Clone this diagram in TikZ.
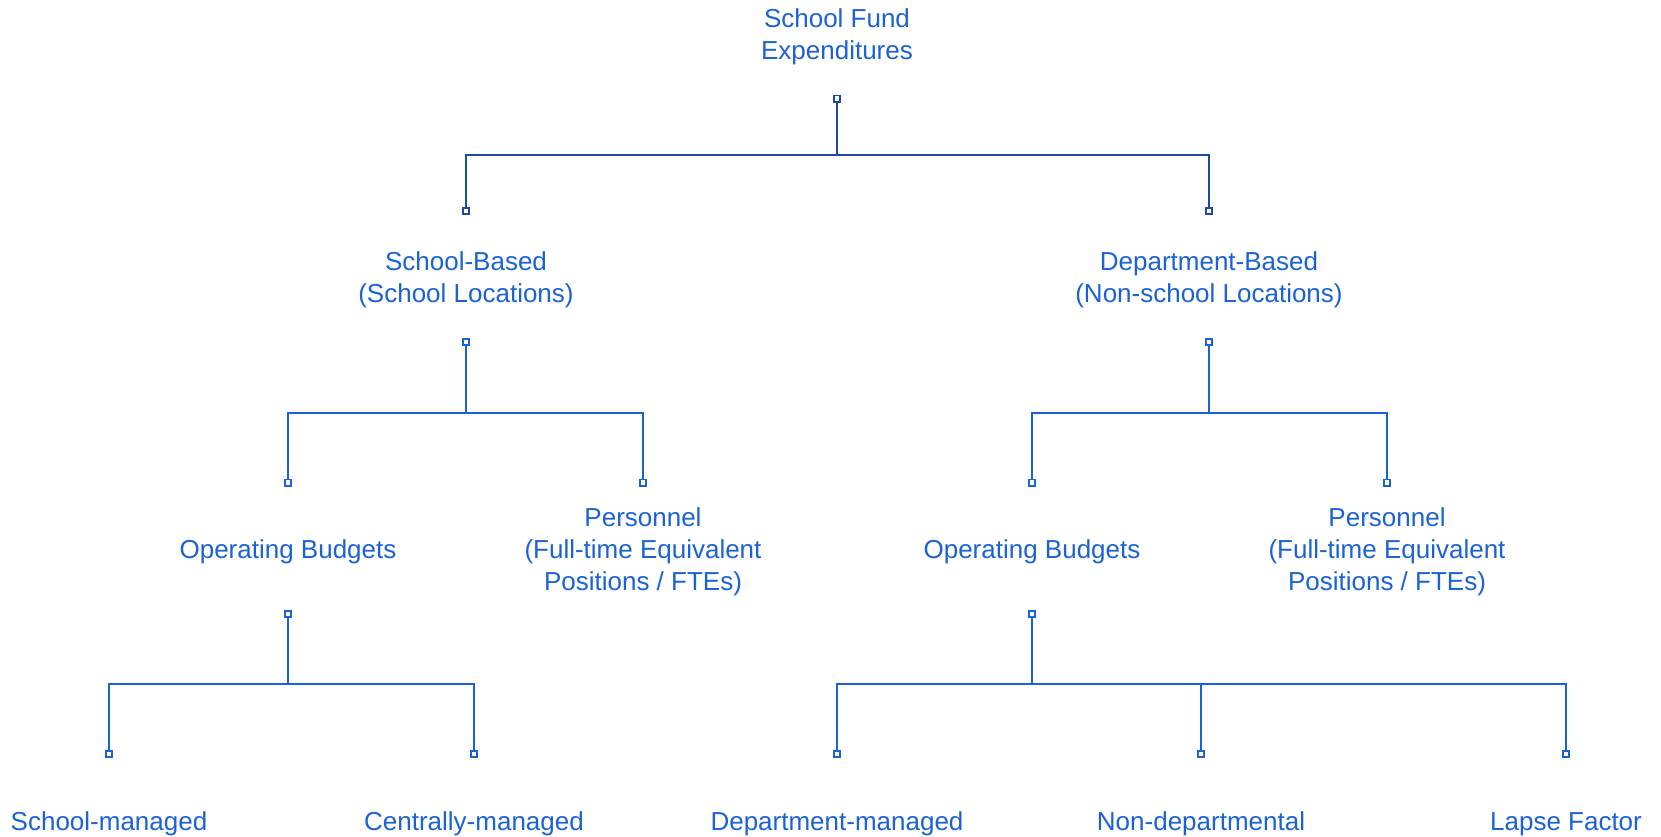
\documentclass[tikz,border=0pt]{standalone}
\usepackage{fontspec}
\setmainfont{Liberation Sans}
\definecolor{txtblue}{HTML}{1A62D6}
\definecolor{linedark}{HTML}{1D4AA0}
\definecolor{linelight}{HTML}{1A62D6}
\begin{document}
\begin{tikzpicture}[x=0.75pt,y=-0.75pt,
  lbl/.style={text=txtblue, font=\fontsize{19.5}{24}\selectfont, align=center, inner sep=0pt, anchor=base},
  port/.style={draw, fill=white, rectangle, minimum size=4.6pt, inner sep=0pt, line width=1.4pt},
  tierone/.style={draw=linedark, line width=1.7pt, line join=miter},
  tiertwo/.style={draw=linelight, line width=1.7pt, line join=miter}]
\useasboundingbox (0,0) rectangle (1661,836);

% labels (anchored on the baseline of their last line)
\node[lbl] (root)   at (837,59.5)  {School Fund\\Expenditures};
\node[lbl] (sb)     at (466,302)   {School-Based\\(School Locations)};
\node[lbl] (db)     at (1209,302)  {Department-Based\\(Non-school Locations)};
\node[lbl] (sop)    at (288,558)   {Operating Budgets};
\node[lbl] (spers)  at (643,590)   {Personnel\\(Full-time Equivalent\\Positions / FTEs)};
\node[lbl] (dop)    at (1032,558)  {Operating Budgets};
\node[lbl] (dpers)  at (1387,590)  {Personnel\\(Full-time Equivalent\\Positions / FTEs)};
\node[lbl] (smgd)   at (109,830)   {School-managed};
\node[lbl] (cmgd)   at (474,830)   {Centrally-managed};
\node[lbl] (dmgd)   at (837,830)   {Department-managed};
\node[lbl] (nondep) at (1201,830)  {Non-departmental};
\node[lbl] (lapse)  at (1566,830)  {Lapse Factor};

% connection ports
\node[port, draw=linedark]  (root-o)  at (837,98.6)  {};
\node[port, draw=linedark]  (sb-i)    at (466,210.8) {};
\node[port, draw=linedark]  (db-i)    at (1209,210.8) {};
\node[port, draw=linelight] (sb-o)    at (466,342.3) {};
\node[port, draw=linelight] (db-o)    at (1209,342.3) {};
\node[port, draw=linelight] (sop-i)   at (288,482.5) {};
\node[port, draw=linelight] (spers-i) at (643,482.5) {};
\node[port, draw=linelight] (dop-i)   at (1032,482.5) {};
\node[port, draw=linelight] (dpers-i) at (1387,482.5) {};
\node[port, draw=linelight] (sop-o)   at (288,614) {};
\node[port, draw=linelight] (dop-o)   at (1032,614) {};
\node[port, draw=linelight] (smgd-i)  at (109,754) {};
\node[port, draw=linelight] (cmgd-i)  at (474,754) {};
\node[port, draw=linelight] (dmgd-i)  at (837,754) {};
\node[port, draw=linelight] (nondep-i) at (1201,754) {};
\node[port, draw=linelight] (lapse-i) at (1566,754) {};

% bus junctions
\coordinate (bus-root) at (837,154.7);
\coordinate (bus-sb)   at (466,412.7);
\coordinate (bus-db)   at (1209,412.7);
\coordinate (bus-sop)  at (288,684);
\coordinate (bus-dop)  at (1032,684);

% connectors
\draw[tierone] (root-o) -- (bus-root) -| (sb-i);
\draw[tierone] (bus-root) -| (db-i);
\draw[tiertwo] (sb-o) -- (bus-sb) -| (sop-i);
\draw[tiertwo] (bus-sb) -| (spers-i);
\draw[tiertwo] (db-o) -- (bus-db) -| (dop-i);
\draw[tiertwo] (bus-db) -| (dpers-i);
\draw[tiertwo] (sop-o) -- (bus-sop) -| (smgd-i);
\draw[tiertwo] (bus-sop) -| (cmgd-i);
\draw[tiertwo] (dop-o) -- (bus-dop) -| (dmgd-i);
\draw[tiertwo] (bus-dop) -| (nondep-i);
\draw[tiertwo] (bus-dop) -| (lapse-i);
\end{tikzpicture}
\end{document}
